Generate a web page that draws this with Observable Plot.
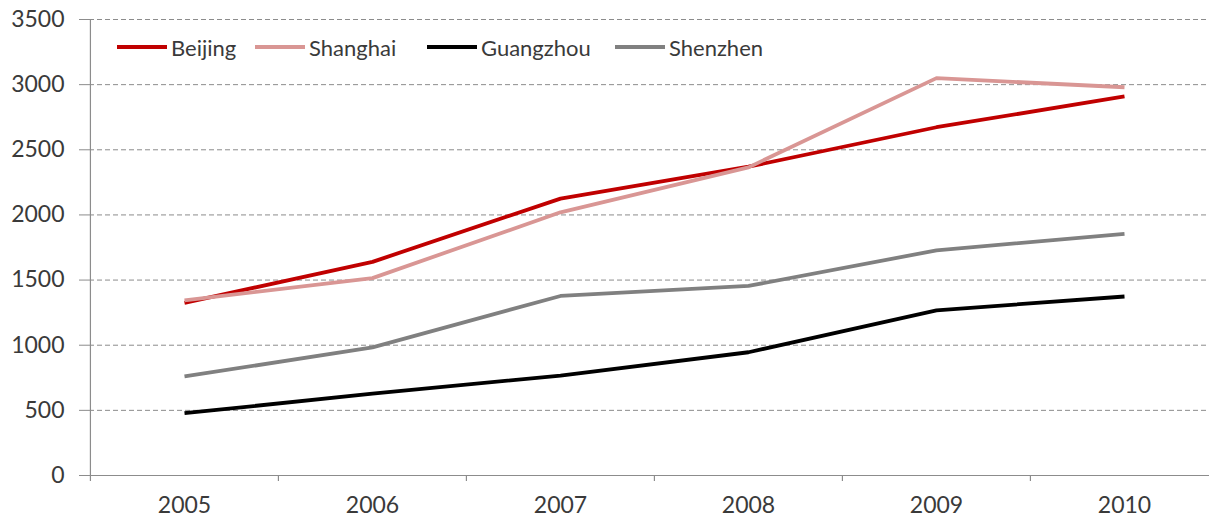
<!DOCTYPE html>
<html>
<head>
<meta charset="utf-8">
<script src="https://cdn.jsdelivr.net/npm/d3@7"></script>
<script src="https://cdn.jsdelivr.net/npm/@observablehq/plot@0.6"></script>
<style>
  html, body { margin: 0; padding: 0; background: #fff; overflow: hidden; }
  #chart { position: relative; width: 1209px; height: 517px; overflow: hidden; }
  #chart svg { max-width: none; display: block; }
  .legend { position: absolute; left: 0; top: 0; font-family: Lato, sans-serif; font-size: 22px; color: #3a3a3a; }
  .item { position: absolute; top: 33px; height: 28px; display: flex; align-items: center; white-space: nowrap; }
  .sw { width: 50px; height: 4px; margin-right: 4px; }
</style>
</head>
<body>
<div id="chart"></div>
<script>
// Years on the category axis
const years = ["2005", "2006", "2007", "2008", "2009", "2010"];

// One series per city
const cities = ["Beijing", "Shanghai", "Guangzhou", "Shenzhen"];
const beijing   = [1325, 1640, 2125, 2370, 2673, 2909];
const shanghai  = [1345, 1515, 2020, 2365, 3050, 2980];
const guangzhou = [478, 628, 767, 946, 1268, 1374];
const shenzhen  = [760, 983, 1378, 1455, 1728, 1855];

// Y axis ticks
const yTicks = [0, 500, 1000, 1500, 2000, 2500, 3000, 3500];

const colors = ["#C00000", "#D99694", "#000000", "#808080"];
const seriesValues = [beijing, shanghai, guangzhou, shenzhen];

const rows = cities.flatMap((city, i) =>
  years.map((year, j) => ({ city, year, value: seriesValues[i][j] }))
);

const width = 1218;
const marginLeft = 89;
const marginRight = 0;
const step = (width - marginLeft - marginRight) / years.length;
const axisGray = "#8c8c8c";
const textColor = "#3a3a3a";

const chart = Plot.plot({
  width,
  height: 517,
  marginLeft,
  marginRight,
  marginTop: 19,
  marginBottom: 42,
  style: { fontFamily: "Lato, sans-serif", fontSize: "23px", background: "white", color: textColor },
  x: { type: "point", domain: years, padding: 0.5 },
  y: { domain: [0, 3500] },
  color: { domain: cities, range: colors },
  marks: [
    // dashed horizontal gridlines
    Plot.ruleY(yTicks.filter(d => d > 0), { stroke: axisGray, strokeDasharray: "5,3", strokeWidth: 1 }),
    // value axis
    Plot.axisY(yTicks, {
      tickSize: 10, tickPadding: 15, stroke: axisGray, fill: textColor,
      fontSize: 23, label: null, tickFormat: d => String(d)
    }),
    // category axis labels
    Plot.axisX({ tickSize: 0, tickPadding: 21, fill: textColor, fontSize: 23, label: null }),
    // baseline
    Plot.ruleY([0], { stroke: axisGray, strokeWidth: 1.2, insetLeft: -10 }),
    // vertical axis line, extended to the first category tick
    Plot.ruleX([years[0]], { dx: -step / 2, stroke: axisGray, strokeWidth: 1.2, insetBottom: -6 }),
    // category tick marks between the categories
    Plot.ruleX(years.slice(1), { dx: -step / 2, y1: 0, y2: 0, insetBottom: -6, stroke: axisGray, strokeWidth: 1.2 }),
    // city lines
    Plot.line(rows, {
      x: "year", y: "value", z: "city", stroke: "city",
      strokeWidth: 3.8, strokeLinejoin: "round", strokeLinecap: "butt"
    })
  ]
});

const container = document.getElementById("chart");
container.appendChild(chart);

// Legend placed inside the plot area, across the top
const legend = document.createElement("div");
legend.className = "legend";
const legendLeft = [117, 255, 427, 615];
cities.forEach((city, i) => {
  const item = document.createElement("div");
  item.className = "item";
  item.style.left = legendLeft[i] + "px";
  const sw = document.createElement("span");
  sw.className = "sw";
  sw.style.background = colors[i];
  const label = document.createElement("span");
  label.textContent = city;
  item.appendChild(sw);
  item.appendChild(label);
  legend.appendChild(item);
});
container.appendChild(legend);
</script>
</body>
</html>
